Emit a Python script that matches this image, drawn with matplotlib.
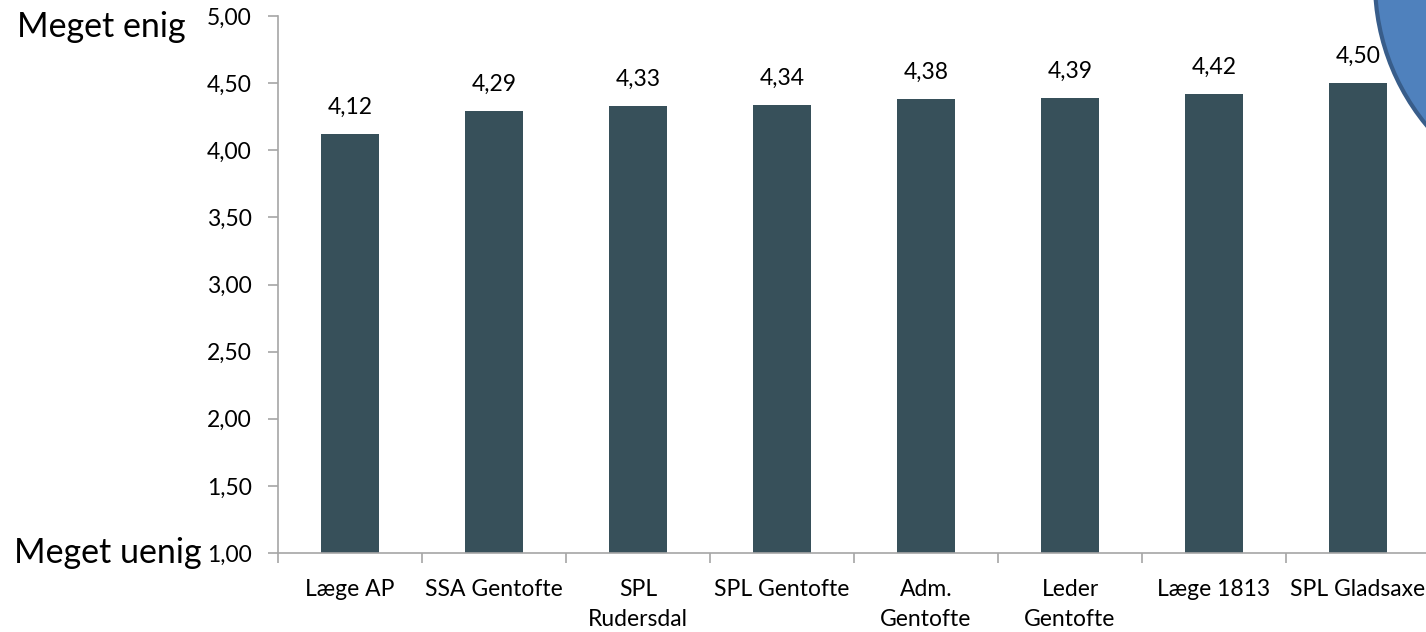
import numpy as np
import matplotlib
matplotlib.use('Agg')
import matplotlib.pyplot as plt
from matplotlib.patches import Circle

plt.rcParams['font.family'] = ['Lato', 'DejaVu Sans']

groups = ['Læge AP', 'SSA Gentofte', 'SPL\nRudersdal', 'SPL Gentofte',
          'Adm.\nGentofte', 'Leder\nGentofte', 'Læge 1813', 'SPL Gladsaxe']
scores = [4.12, 4.29, 4.33, 4.34, 4.38, 4.39, 4.42, 4.50]
yticks = [1.0, 1.5, 2.0, 2.5, 3.0, 3.5, 4.0, 4.5, 5.0]

bar_col = '#37505a'
axis_col = '#a6a6a6'
fs = 16.5

fig = plt.figure(figsize=(14.26, 6.32), dpi=100)
ax = fig.add_axes([278/1426, 1-553/632, (1430-278)/1426, (553-16)/632])

x = np.arange(len(groups))
ax.bar(x, scores, width=0.4, color=bar_col, bottom=0, zorder=2)

for xi, v in zip(x, scores):
    ax.text(xi, v + 0.15, f'{v:.2f}'.replace('.', ','), ha='center', va='baseline',
            fontsize=fs)

ax.set_ylim(1, 5)
ax.set_xlim(-0.5, len(groups) - 0.5)
ax.set_yticks(yticks)
ax.set_yticklabels([f'{t:.2f}'.replace('.', ',') for t in yticks], fontsize=fs)
ax.set_xticks(x)
ax.set_xticklabels(groups, fontsize=fs, linespacing=1.5)
ax.set_xticks(np.arange(-0.5, len(groups), 1), minor=True)
ax.tick_params(axis='x', which='major', length=0, pad=19)
ax.tick_params(axis='x', which='minor', length=7, color=axis_col, width=1.2)
ax.tick_params(axis='y', length=7, color=axis_col, width=1.2, pad=12)

for s in ['top', 'right']:
    ax.spines[s].set_visible(False)
for s in ['left', 'bottom']:
    ax.spines[s].set_color(axis_col)
    ax.spines[s].set_linewidth(1.2)

fig.text(186/1426, 1-37/632, 'Meget enig', fontsize=24.5, ha='right', va='baseline')
fig.text(202/1426, 1-563/632, 'Meget uenig', fontsize=24.5, ha='right', va='baseline')

circ = Circle((16.0, 6.50), 2.25, transform=fig.dpi_scale_trans,
              facecolor='#4f81bd', edgecolor='#385d8a', linewidth=3, zorder=10)
fig.add_artist(circ)

fig.savefig('out.png', dpi=100)
